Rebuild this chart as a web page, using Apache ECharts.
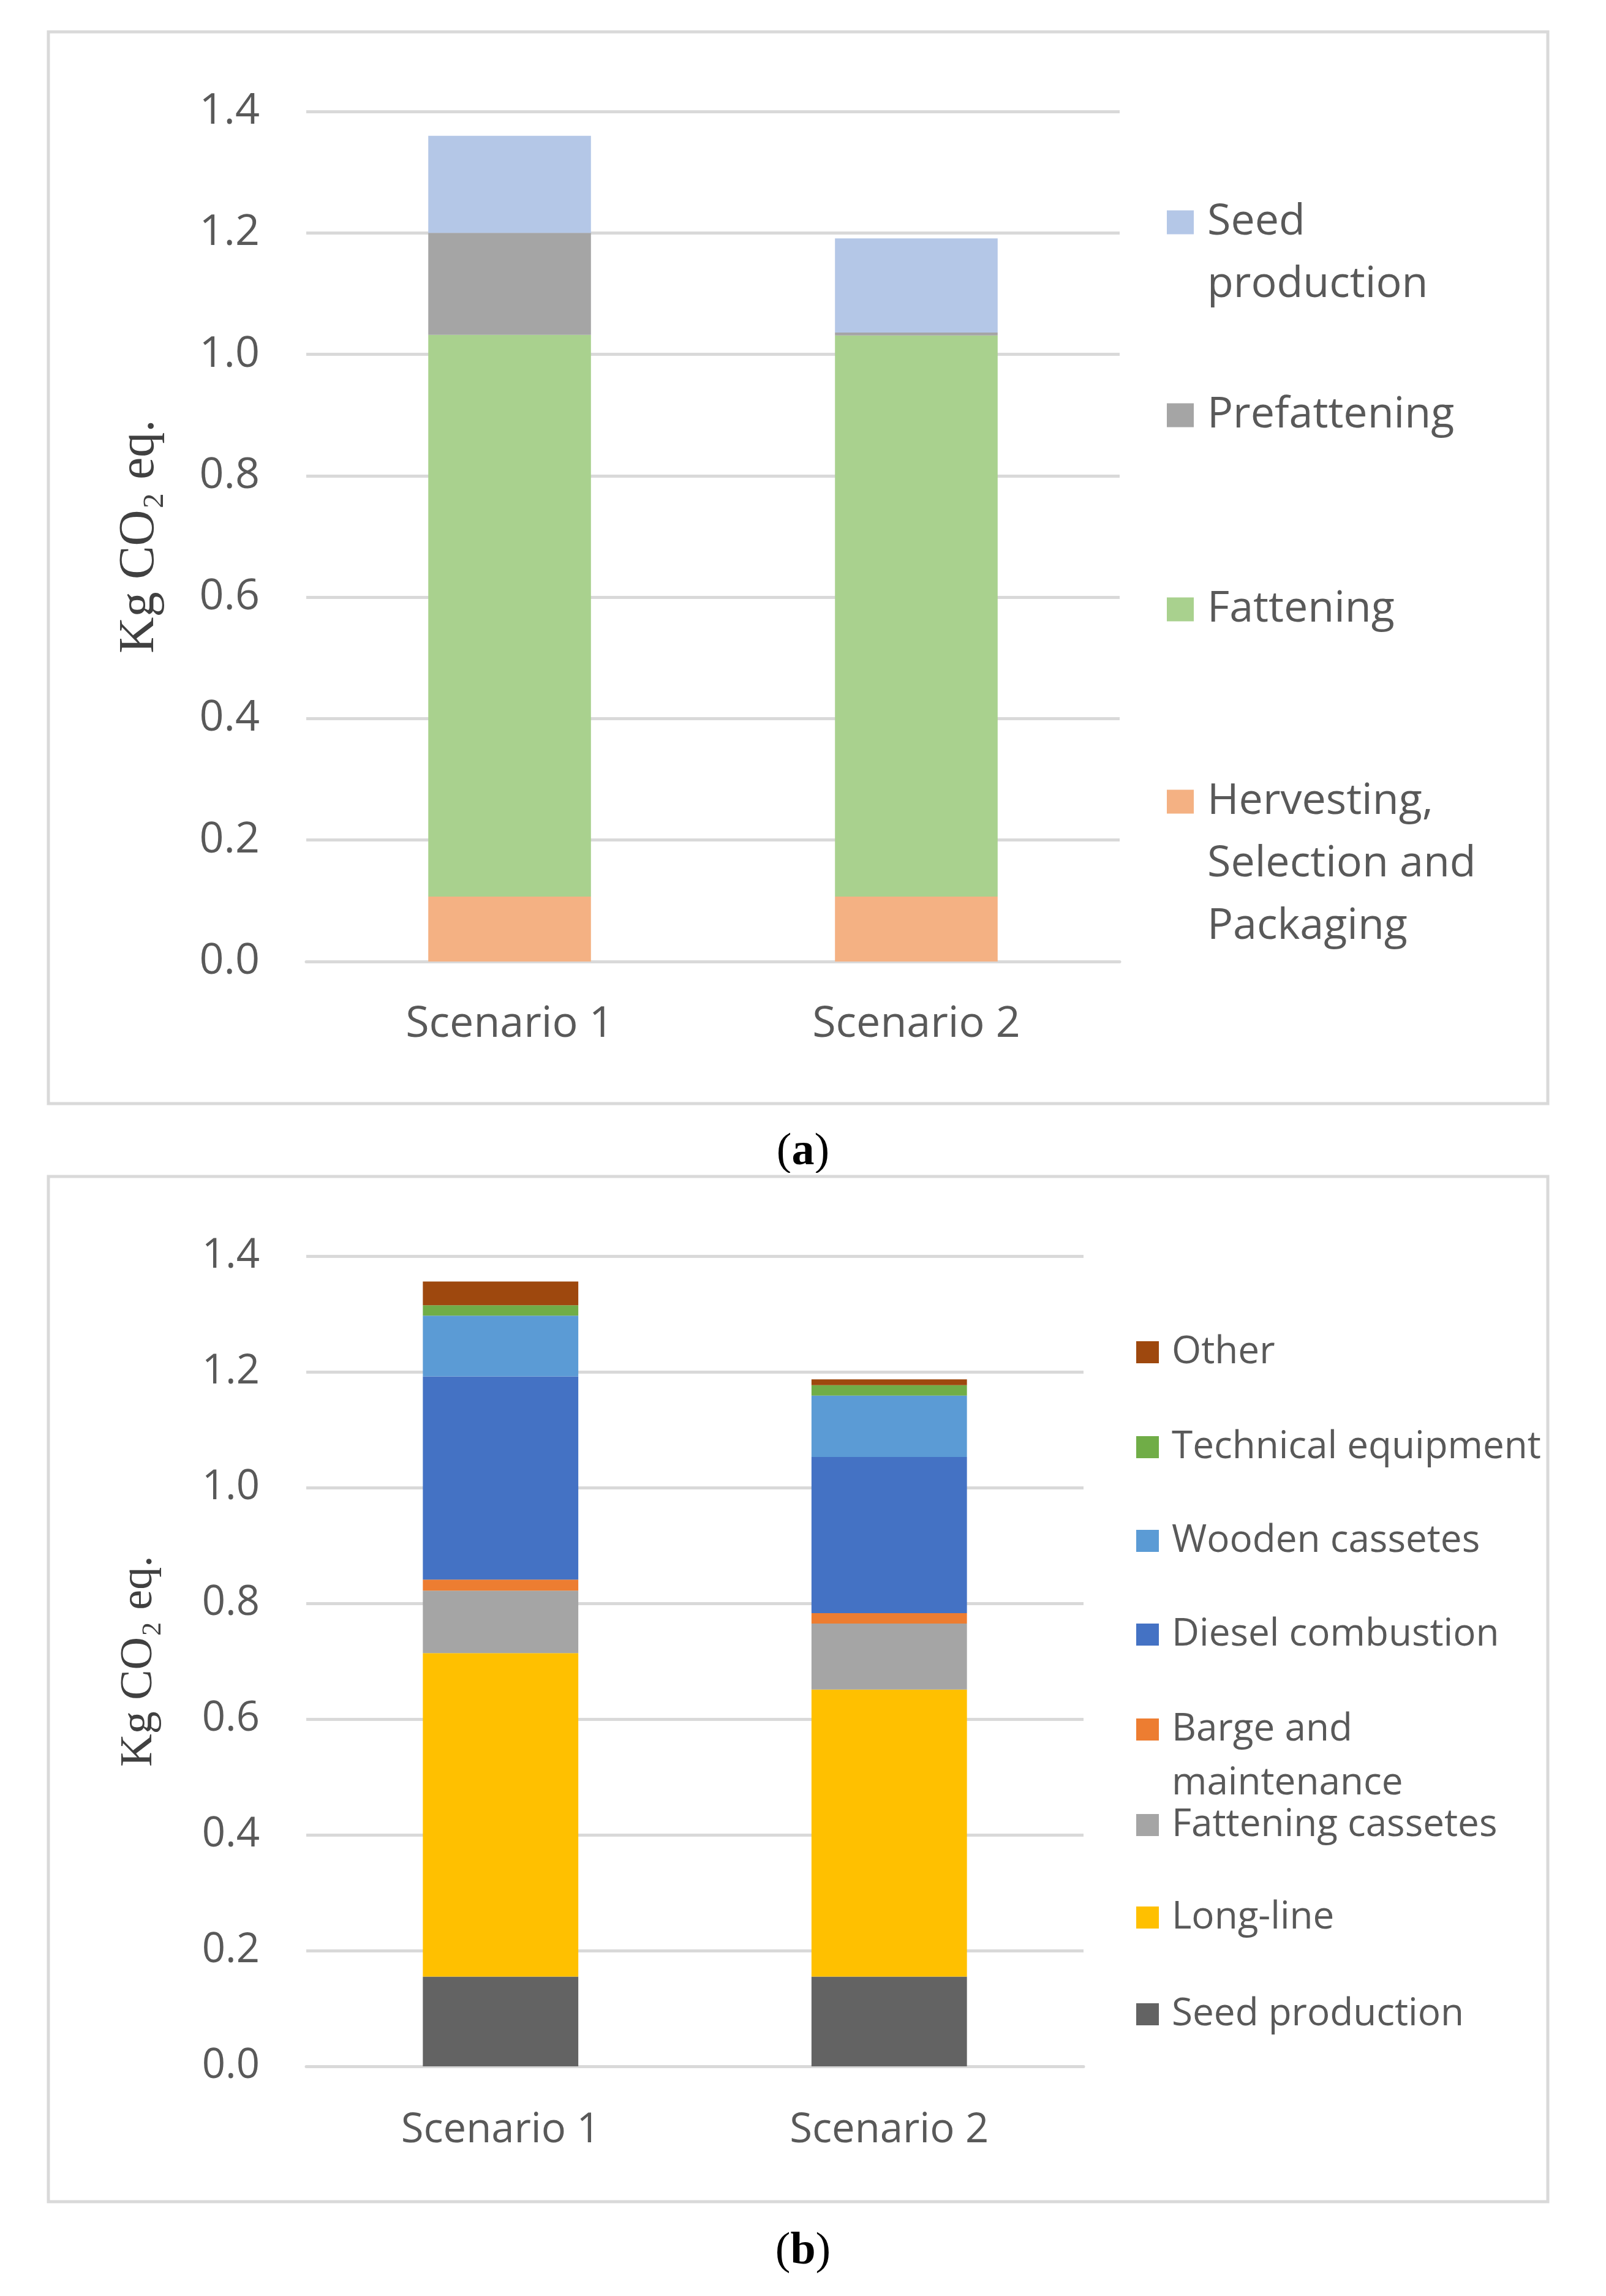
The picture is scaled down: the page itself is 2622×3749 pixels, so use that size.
<!DOCTYPE html>
<html>
<head>
<meta charset="utf-8">
<script src="https://cdn.jsdelivr.net/npm/echarts@6/dist/echarts.min.js"></script>
<style>
  html, body { margin: 0; padding: 0; background: #fff; }
  #chartA { position: absolute; left: 0; top: 0; width: 2622px; height: 1915px; }
  #chartB { position: absolute; left: 0; top: 1915px; width: 2622px; height: 1834px; }
</style>
</head>
<body>
<div id="chartA"></div>
<div id="chartB"></div>
<script>
// categories shared by both panels
const categories = ['Scenario 1', 'Scenario 2'];
const yMin = 0, yMax = 1.4, yStep = 0.2;

// panel (a) - by phase (kg CO2 eq.)
const harvestingA = [0.107, 0.107];
const fatteningA = [0.925, 0.924];
const prefatteningA = [0.168, 0.005];
const seedA = [0.160, 0.155];

// panel (b) - by source (kg CO2 eq.)
const seedB = [0.155, 0.155];
const longLine = [0.559, 0.496];
const fattCassettes = [0.108, 0.114];
const barge = [0.019, 0.018];
const diesel = [0.351, 0.270];
const wooden = [0.105, 0.106];
const technical = [0.018, 0.018];
const other = [0.041, 0.010];

const labelFont = '"Open Sans", "Noto Sans", sans-serif';
const serifFont = '"Liberation Serif", "DejaVu Serif", serif';

// one legend component per entry; blank lines in front keep the icon on the first text line
function legendEntry(name, text, left, centerY, lineH, iconW, iconH, fontSize, gap) {
    const n = text.split('\n').length;
    const shown = ' \n'.repeat(n - 1) + text;
    return {
        data: [name],
        left: left,
        top: centerY - (2 * n - 1) * lineH / 2,
        padding: 0,
        icon: 'rect',
        itemWidth: iconW,
        itemHeight: iconH,
        itemGap: 0,
        selectedMode: false,
        formatter: () => shown,
        textStyle: {
            fontFamily: labelFont,
            fontSize: fontSize,
            lineHeight: lineH,
            color: '#595959',
            padding: [0, 0, 0, gap]
        }
    };
}

function yAxisCfg(labelSize, nameSize) {
    return {
        type: 'value',
        min: yMin, max: yMax, interval: yStep,
        name: 'Kg CO\u2082 eq.',
        nameLocation: 'middle',
        nameRotate: 90,
        nameGap: 272,
        nameTextStyle: { fontFamily: serifFont, fontSize: nameSize, color: '#404040', verticalAlign: 'middle' },
        axisLine: { show: false },
        axisTick: { show: false },
        axisLabel: { formatter: v => v.toFixed(1), fontFamily: labelFont, fontSize: labelSize, color: '#595959', margin: 76 },
        splitLine: { lineStyle: { color: '#d9d9d9', width: 5 } }
    };
}

function xAxisCfg(labelSize, margin) {
    return {
        type: 'category',
        data: categories,
        axisLine: { lineStyle: { color: '#d9d9d9', width: 5 } },
        axisTick: { show: false },
        axisLabel: { fontFamily: labelFont, fontSize: labelSize, color: '#595959', margin: margin }
    };
}

function barSeries(name, data, color) {
    return {
        name: name, type: 'bar', stack: 'total', data: data,
        barWidth: '40%',
        itemStyle: { color: color },
        emphasis: { disabled: true }
    };
}

function caption(letter, y) {
    return {
        type: 'text', left: 'center', top: y - 40,
        style: {
            text: '({b|' + letter + '})',
            font: '74px ' + serifFont,
            fill: '#000',
            rich: { b: { fontFamily: serifFont, fontSize: 74, fontWeight: 'bold', fill: '#000' } }
        }
    };
}

function frame(y, h) {
    return {
        type: 'rect', shape: { x: 79, y: y, width: 2448, height: h },
        style: { fill: 'none', stroke: '#d9d9d9', lineWidth: 5 }
    };
}

// ---- panel (a)
const chartA = echarts.init(document.getElementById('chartA'));
const colorsA = { seed: '#b4c7e7', pre: '#a5a5a5', fat: '#a9d18e', harv: '#f4b183' };
chartA.setOption({
    animation: false,
    grid: { left: 500, top: 182, width: 1328, height: 1388 },
    xAxis: xAxisCfg(70, 68),
    yAxis: yAxisCfg(70, 82),
    legend: [
        legendEntry('Seed production', 'Seed\nproduction', 1905, 363, 102, 44, 39, 70, 17),
        legendEntry('Prefattening', 'Prefattening', 1905, 678, 102, 44, 39, 70, 17),
        legendEntry('Fattening', 'Fattening', 1905, 995, 102, 44, 39, 70, 17),
        legendEntry('Hervesting, Selection and Packaging', 'Hervesting,\nSelection and\nPackaging', 1905, 1309, 102, 44, 39, 70, 17)
    ],
    series: [
        barSeries('Hervesting, Selection and Packaging', harvestingA, colorsA.harv),
        barSeries('Fattening', fatteningA, colorsA.fat),
        barSeries('Prefattening', prefatteningA, colorsA.pre),
        barSeries('Seed production', seedA, colorsA.seed)
    ],
    graphic: [frame(52, 1750), caption('a', 1885)]
});

// ---- panel (b), its div starts 1915 px down the page
const chartB = echarts.init(document.getElementById('chartB'));
const legendB = [
    ['Other', 'Other', 293],
    ['Technical equipment', 'Technical equipment', 448],
    ['Wooden cassetes', 'Wooden cassetes', 601],
    ['Diesel combustion', 'Diesel combustion', 754],
    ['Barge and maintenance', 'Barge and\nmaintenance', 909],
    ['Fattening cassetes', 'Fattening cassetes', 1065],
    ['Long-line', 'Long-line', 1216],
    ['Seed production', 'Seed production', 1374]
];
chartB.setOption({
    animation: false,
    grid: { left: 500, top: 136, width: 1269, height: 1323 },
    xAxis: xAxisCfg(67, 71),
    yAxis: yAxisCfg(67, 74),
    legend: legendB.map(d => legendEntry(d[0], d[1], 1855, d[2], 88, 37, 36, 62, 16)),
    series: [
        barSeries('Seed production', seedB, '#636363'),
        barSeries('Long-line', longLine, '#ffc000'),
        barSeries('Fattening cassetes', fattCassettes, '#a5a5a5'),
        barSeries('Barge and maintenance', barge, '#ed7d31'),
        barSeries('Diesel combustion', diesel, '#4472c4'),
        barSeries('Wooden cassetes', wooden, '#5b9bd5'),
        barSeries('Technical equipment', technical, '#70ad47'),
        barSeries('Other', other, '#9e480e')
    ],
    graphic: [frame(6, 1674), caption('b', 1765)]
});
</script>
</body>
</html>
